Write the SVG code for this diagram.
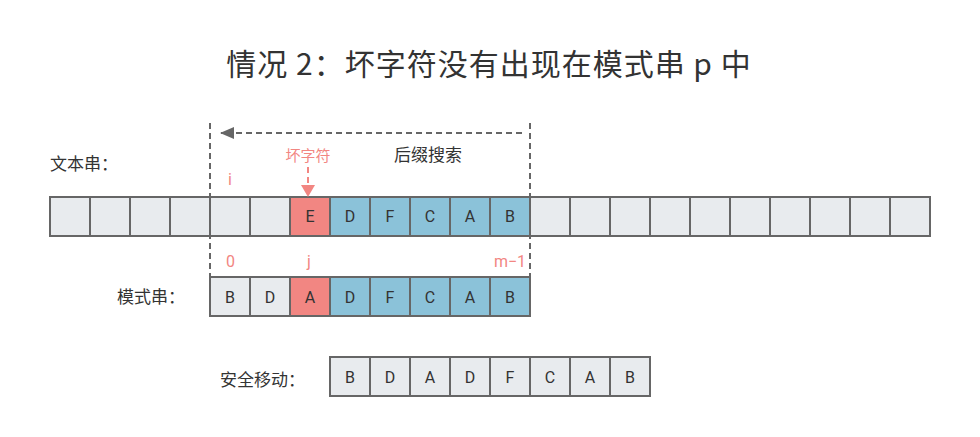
<svg xmlns="http://www.w3.org/2000/svg" width="980" height="437" viewBox="0 0 980 437">
<style>
.c{stroke:#666;stroke-width:2}
.g{fill:#e8ebee}
.b{fill:#8bc2d9}
.r{fill:#f28682}
.t{font-family:Roboto,"Liberation Sans",sans-serif;font-size:16px;fill:#333;text-anchor:middle}
.cj{font-family:"Noto Sans CJK SC",sans-serif;fill:#333}
.pk{fill:#f28682}
.dash{stroke:#666;stroke-width:2;stroke-dasharray:6 4;fill:none}
</style>
<defs>
<marker id="ag" markerWidth="14" markerHeight="12" refX="13" refY="6" orient="auto" markerUnits="userSpaceOnUse"><path d="M0,0 L14,6 L0,12 Z" fill="#666"/></marker>
<marker id="ar" markerWidth="12" markerHeight="14" refX="11" refY="7" orient="auto" markerUnits="userSpaceOnUse"><path d="M0,0 L12,7 L0,14 Z" fill="#f28682"/></marker>
</defs>
<rect width="980" height="437" fill="#fff"/>
<text id="title" class="cj" x="489" y="75" font-size="30" text-anchor="middle" letter-spacing="1">情况 2：坏字符没有出现在模式串 p 中</text>

<g id="text-row">
<text class="cj" x="50" y="170" font-size="17">文本串：</text>
<rect class="c g" x="50" y="197" width="40" height="39"/>
<rect class="c g" x="90" y="197" width="40" height="39"/>
<rect class="c g" x="130" y="197" width="40" height="39"/>
<rect class="c g" x="170" y="197" width="40" height="39"/>
<rect class="c g" x="210" y="197" width="40" height="39"/>
<rect class="c g" x="250" y="197" width="40" height="39"/>
<rect class="c r" x="290" y="197" width="40" height="39"/>
<rect class="c b" x="330" y="197" width="40" height="39"/>
<rect class="c b" x="370" y="197" width="40" height="39"/>
<rect class="c b" x="410" y="197" width="40" height="39"/>
<rect class="c b" x="450" y="197" width="40" height="39"/>
<rect class="c b" x="490" y="197" width="40" height="39"/>
<rect class="c g" x="530" y="197" width="40" height="39"/>
<rect class="c g" x="570" y="197" width="40" height="39"/>
<rect class="c g" x="610" y="197" width="40" height="39"/>
<rect class="c g" x="650" y="197" width="40" height="39"/>
<rect class="c g" x="690" y="197" width="40" height="39"/>
<rect class="c g" x="730" y="197" width="40" height="39"/>
<rect class="c g" x="770" y="197" width="40" height="39"/>
<rect class="c g" x="810" y="197" width="40" height="39"/>
<rect class="c g" x="850" y="197" width="40" height="39"/>
<rect class="c g" x="890" y="197" width="40" height="39"/>
<text class="t" x="310" y="222">E</text>
<text class="t" x="350" y="222">D</text>
<text class="t" x="390" y="222">F</text>
<text class="t" x="430" y="222">C</text>
<text class="t" x="470" y="222">A</text>
<text class="t" x="510" y="222">B</text>
<text class="t pk" x="230" y="185" font-size="17">i</text>
</g>

<g id="pattern-row">
<text class="cj" x="117" y="303" font-size="17">模式串：</text>
<rect class="c g" x="210" y="277" width="40" height="39"/>
<rect class="c g" x="250" y="277" width="40" height="39"/>
<rect class="c r" x="290" y="277" width="40" height="39"/>
<rect class="c b" x="330" y="277" width="40" height="39"/>
<rect class="c b" x="370" y="277" width="40" height="39"/>
<rect class="c b" x="410" y="277" width="40" height="39"/>
<rect class="c b" x="450" y="277" width="40" height="39"/>
<rect class="c b" x="490" y="277" width="40" height="39"/>
<text class="t" x="230" y="303">B</text>
<text class="t" x="270" y="303">D</text>
<text class="t" x="310" y="303">A</text>
<text class="t" x="350" y="303">D</text>
<text class="t" x="390" y="303">F</text>
<text class="t" x="430" y="303">C</text>
<text class="t" x="470" y="303">A</text>
<text class="t" x="510" y="303">B</text>
<text class="t pk" x="230.5" y="267">0</text>
<text class="t pk" x="309" y="267">j</text>
<text class="t pk" x="510" y="267">m−1</text>
</g>

<g id="safe-row">
<text class="cj" x="220" y="386" font-size="17">安全移动：</text>
<rect class="c g" x="330" y="357" width="40" height="39"/>
<rect class="c g" x="370" y="357" width="40" height="39"/>
<rect class="c g" x="410" y="357" width="40" height="39"/>
<rect class="c g" x="450" y="357" width="40" height="39"/>
<rect class="c g" x="490" y="357" width="40" height="39"/>
<rect class="c g" x="530" y="357" width="40" height="39"/>
<rect class="c g" x="570" y="357" width="40" height="39"/>
<rect class="c g" x="610" y="357" width="40" height="39"/>
<text class="t" x="350" y="383">B</text>
<text class="t" x="390" y="383">D</text>
<text class="t" x="430" y="383">A</text>
<text class="t" x="470" y="383">D</text>
<text class="t" x="510" y="383">F</text>
<text class="t" x="550" y="383">C</text>
<text class="t" x="590" y="383">A</text>
<text class="t" x="630" y="383">B</text>
</g>

<g id="connectors">
<line class="dash" x1="210" y1="123" x2="210" y2="277"/>
<line class="dash" x1="530" y1="123" x2="530" y2="277"/>
<line class="dash" x1="522" y1="133" x2="221" y2="133" marker-end="url(#ag)"/>
<line x1="308" y1="167" x2="308" y2="196" stroke="#f28682" stroke-width="2" stroke-dasharray="6 4" marker-end="url(#ar)"/>
</g>
<g id="labels">
<text class="cj" x="428" y="161" font-size="17" text-anchor="middle">后缀搜索</text>
<text class="cj pk" x="308" y="161" font-size="15" text-anchor="middle">坏字符</text>
</g>
</svg>
